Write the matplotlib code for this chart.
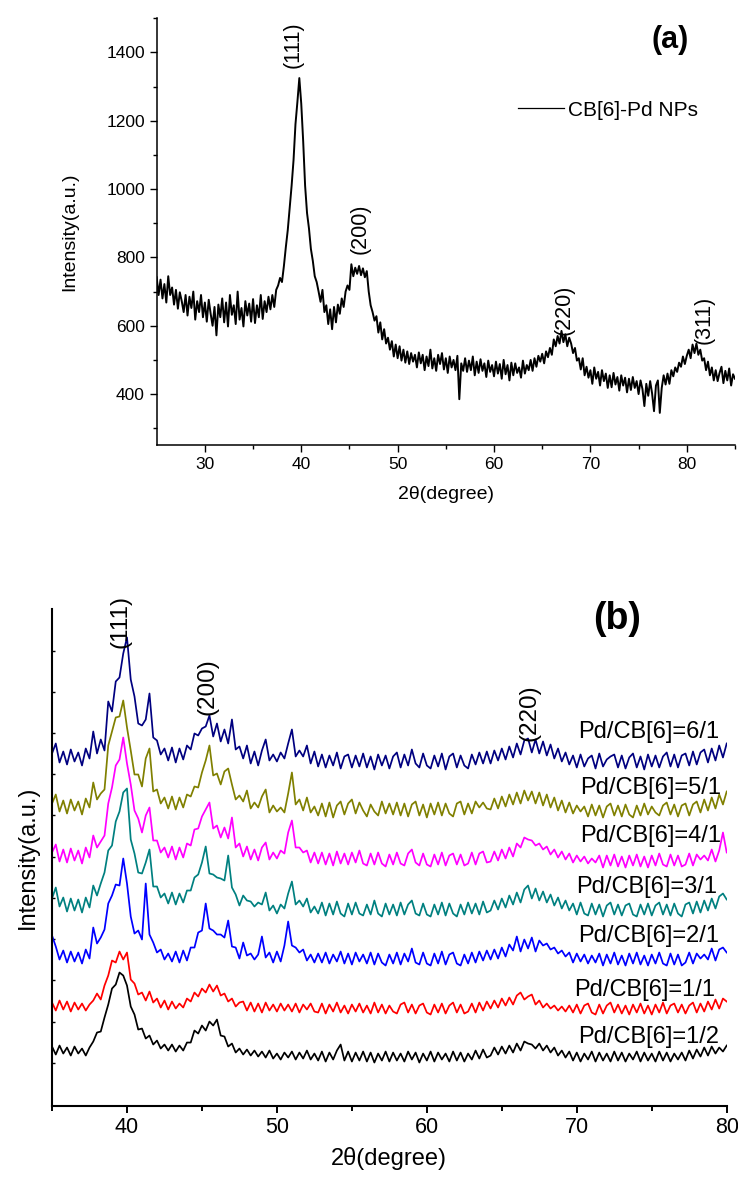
import numpy as np
import matplotlib.pyplot as plt
from matplotlib.ticker import FixedLocator, NullFormatter

plt.rcParams['font.family'] = ['Liberation Sans', 'DejaVu Sans']

# ---- panel (a): CB[6]-Pd NPs, 2theta 25..85 step 0.2 ----
theta_a_start, theta_a_step = 25.0, 0.2
intensity_a = [
    742, 690, 735, 680, 722, 668, 745, 690, 712, 662,
    705, 650, 698, 672, 640, 690, 630, 685, 652, 700,
    618, 672, 640, 690, 625, 668, 612, 676, 635, 600,
    655, 572, 662, 625, 680, 610, 668, 598, 690, 632,
    660, 605, 700, 618, 652, 598, 672, 630, 665, 612,
    678, 608, 660, 625, 690, 620, 672, 640, 685, 648,
    690, 655, 705, 718, 740, 728, 775, 830, 880, 945,
    1010, 1085, 1190, 1255, 1325, 1250, 1140, 1010, 930, 885,
    825, 790, 745, 728, 700, 670, 705, 640, 660, 605,
    648, 590, 655, 610, 662, 635, 680, 655, 700, 718,
    705, 780, 745, 770, 752, 775, 748, 768, 742, 760,
    700, 660, 640, 615, 628, 580, 610, 560, 590, 548,
    565, 530, 555, 510, 545, 505, 540, 498, 530, 492,
    525, 488, 520, 495, 515, 478, 522, 490, 515, 470,
    510, 482, 530, 475, 505, 468, 515, 488, 520, 472,
    505, 462, 510, 478, 500, 470, 512, 385, 490, 468,
    505, 465, 498, 470, 510, 455, 495, 462, 502, 468,
    490, 450, 498, 465, 485, 452, 495, 460, 488, 445,
    500, 458, 485, 440, 492, 455, 490, 462, 478, 448,
    498, 460, 485, 470, 500, 468, 505, 480, 512, 495,
    518, 490, 525, 508, 535, 515, 560, 540, 570, 548,
    585, 552, 575, 540, 565, 548, 520, 535, 498, 505,
    472, 505, 455, 480, 448, 470, 430, 478, 445, 465,
    425, 470, 438, 460, 418, 455, 420, 462, 428, 450,
    410, 455, 425, 448, 405, 445, 412, 450, 418, 438,
    400, 440, 415, 365, 430, 395, 438, 402, 350, 425,
    440, 345, 418, 455, 428, 460, 430, 470, 452, 478,
    465, 492, 480, 510, 488, 512, 530, 505, 545, 520,
    548, 515, 530, 498, 505, 470, 495, 455, 478, 440,
    470, 438, 462, 480, 432, 468, 440, 475, 425, 458,
    445,
]
peaks_a = ['(111)', '(200)', '(220)', '(311)']
peaks_a_pos = [39.2, 46.15, 67.26, 81.77]
peaks_a_y = [1424, 885, 648, 616]

# ---- panel (b): Pd/CB[6] ratios, 2theta 35..80 step 0.25, stacked (a.u.) ----
theta_b_start, theta_b_step = 35.0, 0.25
ratio_labels = ['Pd/CB[6]=6/1', 'Pd/CB[6]=5/1', 'Pd/CB[6]=4/1', 'Pd/CB[6]=3/1',
                'Pd/CB[6]=2/1', 'Pd/CB[6]=1/1', 'Pd/CB[6]=1/2']
ratio_colors = ['#000080', '#808000', '#FF00FF', '#008080', '#0000FF', '#FF0000', '#000000']

i_6_1 = [
    352, 362, 343, 354, 341, 356, 344, 353, 340, 357, 347,
    374, 352, 366, 355, 404, 394, 424, 428, 452, 468, 426, 409, 382, 380, 386, 412, 368, 365, 351, 357,
    345, 358, 343, 357, 346, 360, 356, 372, 370, 377, 379, 390, 369, 382, 364, 376, 362, 386, 356, 359,
    347, 360, 342, 354, 340, 355, 366, 345, 351, 344, 353, 347, 362, 376, 349, 355, 349, 360, 342, 354,
    339, 351, 338, 350, 340, 353, 337, 349, 351, 338, 350, 339, 352, 338, 349, 336, 351, 340, 350, 337,
    349, 353, 338, 351, 340, 356, 342, 338, 352, 340, 337, 350, 339, 352, 336, 349, 352, 338, 350, 340,
    337, 351, 341, 353, 342, 354,
    342, 355, 345, 357, 346, 359, 348, 362, 351, 365, 367, 353, 366, 352, 364, 350, 361, 347, 357, 344, 353, 341,
    350, 338, 351, 339, 347, 350, 337, 352, 339, 346, 349, 351, 338, 350, 337, 348, 352, 338, 349, 336,
    351, 339, 350, 338, 349, 353, 339, 351, 338, 350, 352, 340, 354, 341, 353, 356, 343, 357, 345, 360,
    348, 362,
]
i_5_1 = [
    302, 311, 294, 305, 292, 306, 295, 304, 291, 307, 298,
    323, 306, 312, 316, 360, 374, 388, 389, 405, 378, 355, 331, 331, 319, 347, 357, 314, 316, 302, 308,
    297, 309, 296, 308, 298, 311, 309, 319, 318, 333, 345, 360, 330, 332, 321, 334, 337, 321, 306, 310,
    304, 315, 297, 303, 298, 309, 316, 293, 300, 294, 298, 293, 312, 333, 301, 306, 295, 308, 293, 299,
    290, 302, 289, 303, 288, 300, 304, 291, 302, 306, 292, 303, 295, 289, 301, 294, 290, 304, 292, 302,
    291, 303, 290, 302, 289, 301, 304, 290, 301, 288, 302, 291, 303, 290, 302, 292, 289, 302, 304, 291,
    302, 292, 304, 298, 303, 297,
    296, 307, 297, 309, 299, 311, 301, 313, 302, 315, 305, 314, 302, 313, 300, 311, 298, 308, 295, 305, 293, 303,
    292, 300, 294, 299, 289, 301, 290, 300, 288, 299, 302, 290, 300, 289, 301, 291, 288, 300, 290, 302,
    291, 299, 293, 290, 300, 303, 291, 301, 289, 300, 302, 290, 301, 304, 293, 306, 295, 308, 297, 311,
    301, 314,
]
i_4_1 = [
    253, 261, 244, 256, 243, 257, 245, 255, 242, 258, 248,
    270, 258, 264, 270, 302, 318, 340, 346, 368, 342, 321, 295, 287, 273, 290, 298, 265, 265, 253, 258,
    248, 259, 246, 258, 248, 262, 260, 276, 277, 289, 296, 303, 277, 280, 268, 278, 267, 288, 258, 262,
    249, 259, 246, 256, 245, 258, 263, 246, 253, 247, 255, 252, 273, 285, 258, 258, 253, 255, 243, 253,
    242, 253, 241, 252, 240, 254, 242, 252, 241, 253, 243, 255, 242, 240, 252, 241, 253, 242, 239, 251,
    241, 253, 242, 240, 252, 256, 243, 240, 252, 241, 239, 251, 241, 253, 240, 250, 252, 241, 251, 240,
    242, 253, 241, 252, 254, 243,
    244, 254, 245, 256, 247, 258, 249, 262, 258, 268, 266, 265, 260, 262, 256, 259, 251, 256, 248, 254, 246, 252,
    243, 250, 244, 249, 242, 247, 243, 250, 238, 250, 240, 251, 239, 249, 238, 250, 240, 251, 239, 249,
    238, 250, 240, 252, 241, 239, 251, 240, 250, 239, 241, 252, 240, 251, 246, 250, 245, 256, 244, 255,
    273, 253,
]
i_3_1 = [
    207, 218, 199, 208, 194, 207, 195, 206, 193, 208, 198,
    220, 210, 222, 233, 255, 260, 284, 294, 313, 317, 266, 252, 233, 232, 243, 256, 219, 219, 208, 212,
    202, 213, 201, 212, 203, 215, 215, 228, 231, 243, 259, 232, 231, 228, 227, 225, 250, 218, 211, 200,
    210, 205, 204, 199, 203, 201, 213, 195, 200, 192, 201, 197, 212, 224, 201, 205, 199, 207, 193, 199,
    192, 203, 190, 202, 191, 204, 192, 189, 202, 191, 203, 192, 190, 201, 191, 205, 192, 189, 202, 191,
    201, 190, 203, 191, 201, 205, 192, 190, 202, 191, 189, 201, 191, 203, 190, 202, 192, 189, 201, 191,
    203, 192, 202, 191, 204, 193,
    195, 205, 196, 207, 198, 210, 201, 213, 203, 216, 220, 207, 217, 205, 214, 203, 211, 200, 208, 197, 205, 195,
    202, 191, 203, 192, 190, 202, 191, 201, 189, 200, 203, 191, 201, 190, 200, 202, 191, 189, 201, 191,
    202, 190, 200, 203, 191, 201, 190, 202, 192, 189, 201, 203, 192, 204, 193, 205, 195, 207, 197, 209,
    212, 206,
]
i_2_1 = [
    170, 159, 146, 155, 143, 154, 144, 153, 142, 156, 147,
    178, 162, 168, 176, 202, 210, 221, 220, 247, 222, 189, 172, 175, 166, 222, 171, 163, 153, 156, 146,
    152, 144, 154, 143, 155, 145, 158, 158, 173, 175, 202, 177, 175, 171, 171, 168, 185, 159, 158, 147,
    163, 150, 152, 146, 151, 169, 148, 153, 143, 154, 144, 160, 184, 160, 158, 153, 156, 145, 151, 143,
    152, 143, 153, 142, 151, 144, 154, 142, 152, 141, 153, 144, 151, 142, 153, 141, 152, 143, 140, 151,
    142, 153, 141, 152, 144, 157, 143, 141, 153, 142, 140, 152, 142, 154, 141, 151, 153, 142, 140, 151,
    142, 153, 143, 154, 145, 155,
    146, 156, 147, 158, 149, 161, 155, 169, 154, 166, 157, 168, 154, 165, 160, 162, 156, 158, 152, 155, 149, 153,
    143, 152, 144, 151, 142, 150, 143, 152, 140, 151, 142, 153, 141, 150, 140, 152, 142, 153, 141, 150,
    140, 151, 142, 153, 142, 140, 152, 141, 151, 140, 143, 153, 142, 152, 147, 151, 146, 157, 145, 156,
    158, 153,
]
i_1_1 = [
    103, 95, 105, 96, 104, 94, 103, 96, 102, 95, 101,
    105, 112, 106, 120, 130, 145, 143, 154, 146, 153, 126, 122, 111, 113, 105, 114, 103, 107, 98, 105,
    96, 104, 97, 102, 98, 107, 104, 113, 109, 117, 113, 121, 114, 120, 110, 112, 104, 107, 99, 103,
    104, 95, 103, 94, 102, 93, 103, 95, 101, 94, 102, 95, 101, 94, 102, 93, 101, 96, 102, 94,
    93, 102, 92, 101, 94, 103, 93, 100, 92, 101, 94, 102, 93, 100, 92, 103, 93, 101, 92, 100,
    94, 92, 101, 103, 93, 101, 92, 100, 102, 93, 91, 101, 93, 102, 92, 100, 103, 93, 101, 92,
    94, 102, 93, 103, 95, 104,
    97, 105, 98, 107, 100, 108, 101, 110, 113, 106, 109, 111, 101, 105, 98, 102, 97, 100, 95, 99, 94, 100,
    93, 101, 92, 100, 102, 93, 91, 101, 92, 100, 103, 93, 101, 92, 100, 91, 101, 93, 102, 92,
    100, 91, 101, 93, 103, 92, 100, 102, 93, 101, 92, 100, 103, 93, 102, 94, 104, 96, 106, 97,
    107, 104,
]
i_1_2 = [
    59, 51, 60, 52, 58, 50, 59, 52, 57, 50, 58,
    64, 73, 74, 88, 101, 117, 121, 133, 130, 120, 99, 91, 76, 77, 67, 70, 61, 65, 57, 61,
    55, 61, 54, 60, 55, 63, 63, 75, 72, 80, 75, 84, 80, 86, 70, 69, 59, 62, 53, 57,
    51, 56, 50, 55, 49, 54, 48, 55, 47, 52, 46, 53, 48, 54, 46, 53, 47, 55, 46, 52,
    45, 54, 44, 53, 46, 55, 61, 45, 54, 44, 53, 45, 54, 44, 53, 43, 52, 45, 54, 44,
    53, 45, 52, 44, 54, 46, 53, 43, 52, 45, 54, 44, 53, 46, 52, 44, 54, 45, 53, 44,
    52, 46, 55, 47, 56, 48,
    50, 58, 51, 59, 52, 60, 53, 62, 55, 64, 62, 61, 57, 62, 55, 60, 53, 58, 50, 55, 48, 54,
    45, 53, 44, 52, 46, 54, 44, 53, 45, 52, 44, 54, 45, 53, 44, 52, 46, 54, 44, 53,
    45, 52, 44, 54, 45, 53, 44, 52, 46, 53, 45, 55, 47, 56, 49, 58, 50, 59, 52, 58,
    54, 60,
]
series_b = [i_6_1, i_5_1, i_4_1, i_3_1, i_2_1, i_1_1, i_1_2]
peaks_b = ['(111)', '(200)', '(220)']
peaks_b_pos = [39.56, 45.4, 66.86]
peaks_b_y = [484, 419, 393]

fig = plt.figure(figsize=(7.38, 11.8), dpi=100)

# ---------------- panel (a) ----------------
ax1 = fig.add_axes([0.2123, 0.6226, 0.7836, 0.3619])
x_a = theta_a_start + theta_a_step * np.arange(len(intensity_a))
ax1.plot(x_a, intensity_a, color='black', lw=1.4, label='CB[6]-Pd NPs')
ax1.set_xlim(25, 85)
ax1.set_ylim(250, 1500)
ax1.xaxis.set_major_locator(FixedLocator([30, 40, 50, 60, 70, 80]))
ax1.xaxis.set_minor_locator(FixedLocator([35, 45, 55, 65, 75, 85]))
ax1.yaxis.set_major_locator(FixedLocator([400, 600, 800, 1000, 1200, 1400]))
ax1.yaxis.set_minor_locator(FixedLocator([300, 500, 700, 900, 1100, 1300, 1500]))
ax1.tick_params(which='major', direction='out', length=5, width=1, labelsize=12.5)
ax1.tick_params(which='minor', direction='out', length=3, width=1)
for s in ['top', 'right']:
    ax1.spines[s].set_visible(False)
for s in ['left', 'bottom']:
    ax1.spines[s].set_linewidth(1.1)
ax1.set_xlabel('2\u03b8(degree)', fontsize=14, labelpad=10)
ax1.set_ylabel('Intensity(a.u.)', fontsize=14, labelpad=20)
for lab, px, py in zip(peaks_a, peaks_a_pos, peaks_a_y):
    ax1.text(px, py, lab, rotation=90, fontsize=15.5, ha='center', va='center')
ax1.text(0.887, 0.95, '(a)', transform=ax1.transAxes, fontsize=22,
         fontweight='bold', ha='center', va='center')
leg = ax1.legend(loc='center left', bbox_to_anchor=(0.61, 0.785), frameon=False,
                 fontsize=15, handlelength=2.2, handletextpad=0.2, borderaxespad=0)
for h in leg.get_lines():
    h.set_linewidth(0.9)

# ---------------- panel (b) ----------------
ax2 = fig.add_axes([0.0705, 0.0631, 0.9142, 0.4204])
for vals, col in zip(series_b, ratio_colors):
    x_b = theta_b_start + theta_b_step * np.arange(len(vals))
    ax2.plot(x_b, vals, color=col, lw=1.25)
ax2.set_xlim(35, 80)
ax2.set_ylim(0, 496)
ax2.xaxis.set_major_locator(FixedLocator([40, 50, 60, 70, 80]))
ax2.xaxis.set_minor_locator(FixedLocator([35, 45, 55, 65, 75]))
ax2.yaxis.set_major_locator(FixedLocator(np.arange(42.8, 460, 41.2)))
ax2.yaxis.set_major_formatter(NullFormatter())
ax2.tick_params(axis='x', which='major', direction='out', length=5, width=1.4, labelsize=15.5)
ax2.tick_params(axis='x', which='minor', direction='out', length=3.5, width=1.4)
ax2.tick_params(axis='y', which='major', direction='in', length=2, width=1)
for s in ['top', 'right']:
    ax2.spines[s].set_visible(False)
for s in ['left', 'bottom']:
    ax2.spines[s].set_linewidth(1.5)
ax2.set_xlabel('2\u03b8(degree)', fontsize=17, labelpad=6)
ax2.set_ylabel('Intensity(a.u.)', fontsize=17, labelpad=6)

label_x = [79.47, 79.62, 79.62, 79.35, 79.47, 79.22, 79.47]
label_y = [373, 317, 270, 219, 170, 116, 69]
for lab, lx, ly in zip(ratio_labels, label_x, label_y):
    ax2.text(lx, ly, lab, fontsize=17, ha='right', va='center')
for lab, px, py in zip(peaks_b, peaks_b_pos, peaks_b_y):
    ax2.text(px, py, lab, rotation=90, fontsize=17.5, ha='center', va='center')
ax2.text(0.838, 0.98, '(b)', transform=ax2.transAxes, fontsize=27,
         fontweight='bold', ha='center', va='center')

fig.savefig('out.png', dpi=100)
